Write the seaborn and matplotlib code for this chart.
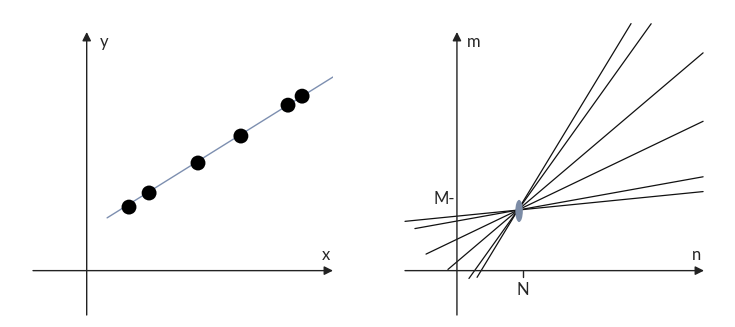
import matplotlib
matplotlib.use("Agg")
import matplotlib.pyplot as plt
from matplotlib.patches import Ellipse
import numpy as np
import pandas as pd
import seaborn as sns

# ---- data (left panel: points on a line) ----
pts_x = [1.41, 2.08, 3.71, 5.14, 6.71, 7.18]
pts_y = [2.12, 2.59, 3.59, 4.49, 5.52, 5.82]
fit_slope = 0.624
fit_intercept = 1.336
fit_x_range = [0.68, 8.21]

# ---- data (right panel: lines through one point) ----
pivot_n = 2.03
pivot_m = 2.02
fan_slopes = [0.10, 0.18, 0.48, 0.85, 1.40, 1.65]
fan_x_start = [-1.73, -1.40, -1.03, -0.30, 0.40, 0.67]
fan_x_end = [8.20, 8.20, 8.20, 8.20, 6.47, 5.80]
tick_M = 2.39
tick_N = 2.20

left_labels = ["x", "y"]
right_labels = ["n", "m"]

sns.set_style("white")
plt.rcParams["font.family"] = ["Lato", "DejaVu Sans"]

fig = plt.figure(figsize=(7.35, 3.27), dpi=100)
axL = fig.add_axes([33 / 735, 12 / 327, 300 / 735, 283 / 327])
axR = fig.add_axes([405 / 735, 12 / 327, 299 / 735, 283 / 327])

ylim = (-1.48, 7.96)
axL.set_xlim(-1.79, 8.21)
axR.set_xlim(-1.73, 8.23)
for ax in (axL, axR):
    ax.set_ylim(*ylim)
    ax.set_axis_off()


def draw_axes(ax, labels):
    x0, x1 = ax.get_xlim()
    y0, y1 = ax.get_ylim()
    ap = dict(arrowstyle="-|>", mutation_scale=13, color="#222222", lw=1.0,
              shrinkA=0, shrinkB=0)
    ax.annotate("", xy=(x1, 0), xytext=(x0, 0), arrowprops=ap, annotation_clip=False)
    ax.annotate("", xy=(0, y1), xytext=(0, y0), arrowprops=ap, annotation_clip=False)
    ax.text(x1 - 0.24, 0.52, labels[0], fontsize=12, ha="center", va="center")
    ax.text(0.57, y1 - 0.34, labels[1], fontsize=12, ha="center", va="center")


# left panel
draw_axes(axL, left_labels)
fit_df = pd.DataFrame({"x": fit_x_range,
                       "y": [fit_intercept + fit_slope * v for v in fit_x_range]})
sns.lineplot(data=fit_df, x="x", y="y", ax=axL, color="#7d8fb0", lw=1.0)
sns.scatterplot(x=pts_x, y=pts_y, ax=axL, s=115, color="black", edgecolor="none",
                zorder=5)

# right panel
draw_axes(axR, right_labels)
rows = []
for i, (k, xs, xe) in enumerate(zip(fan_slopes, fan_x_start, fan_x_end)):
    for xv in (xs, xe):
        rows.append({"x": xv, "y": pivot_m + k * (xv - pivot_n), "line": i})
fan_df = pd.DataFrame(rows)
sns.lineplot(data=fan_df, x="x", y="y", hue="line", units="line", estimator=None,
             palette={i: "#111111" for i in range(len(fan_slopes))}, lw=0.9,
             legend=False, ax=axR, clip_on=False)
axR.add_patch(Ellipse((pivot_n + 0.04, pivot_m - 0.03), 0.25, 0.74,
                      facecolor="#7c8ca6", edgecolor="none", zorder=6))
axR.plot([tick_N, tick_N], [0, -0.21], color="#222222", lw=1.0, clip_on=False)
axR.text(tick_N, -0.65, "N", fontsize=12, ha="center", va="center")
axR.text(-0.08, tick_M, "M-", fontsize=12, ha="right", va="center")

fig.savefig("out.png", dpi=100)
